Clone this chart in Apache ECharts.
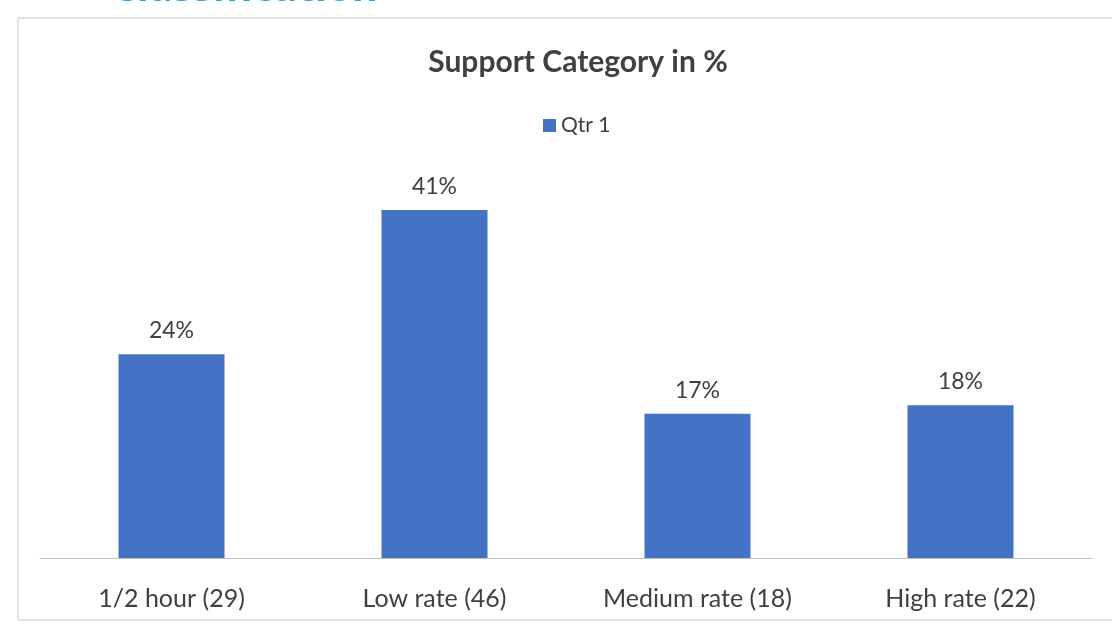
<!DOCTYPE html>
<html>
<head>
<meta charset="utf-8">
<script src="https://cdn.jsdelivr.net/npm/echarts@6/dist/echarts.min.js"></script>
<style>
html,body{margin:0;padding:0;background:#fff;}
#chart{width:1112px;height:630px;}
</style>
</head>
<body>
<div id="chart"></div>
<script>
const categories = ["1/2 hour (29)", "Low rate (46)", "Medium rate (18)", "High rate (22)"];
const qtr1 = [24, 41, 17, 18];
const seriesName = "Qtr 1";
const chartTitle = "Support Category in %";
const headerText = "Classification";

const chart = echarts.init(document.getElementById('chart'));
const font = "Lato, 'Open Sans', sans-serif";
chart.setOption({
  backgroundColor: '#ffffff',
  animation: false,
  title: {
    text: chartTitle,
    left: 573,
    textAlign: 'center',
    top: 42,
    textStyle: {fontFamily: font, fontSize: 30, fontWeight: 'bold', color: '#404040'}
  },
  legend: {
    data: [seriesName],
    left: 538,
    top: 110,
    icon: 'rect',
    itemWidth: 13,
    itemHeight: 13,
    itemGap: 6,
    textStyle: {fontFamily: font, fontSize: 21, color: '#404040'}
  },
  graphic: [
    {type: 'rect', shape: {x: 18, y: 18, width: 1110, height: 602},
     style: {fill: 'none', stroke: '#c8c8c8', lineWidth: 1}, z: -1},
    {type: 'text', x: 378, y: 10,
     style: {text: headerText, font: "bold 40px 'Open Sans', sans-serif", fill: '#2aa4e0', textAlign: 'right', textVerticalAlign: 'bottom'}}
  ],
  grid: {left: 40, right: 20, top: 176, bottom: 72, containLabel: false},
  xAxis: {
    type: 'category',
    data: categories,
    axisLine: {show: true, lineStyle: {color: '#bfbfbf', width: 1}},
    axisTick: {show: false},
    axisLabel: {fontFamily: font, fontSize: 25, color: '#404040', margin: 28}
  },
  yAxis: {
    type: 'value',
    min: 0,
    max: 45,
    show: false,
    splitLine: {show: false}
  },
  series: [{
    name: seriesName,
    type: 'bar',
    data: qtr1,
    barWidth: 106,
    itemStyle: {color: '#4472c4'},
    label: {
      show: true,
      position: 'top',
      distance: 12,
      formatter: '{c}%',
      fontFamily: font,
      fontSize: 23,
      color: '#404040'
    }
  }]
});
</script>
</body>
</html>
